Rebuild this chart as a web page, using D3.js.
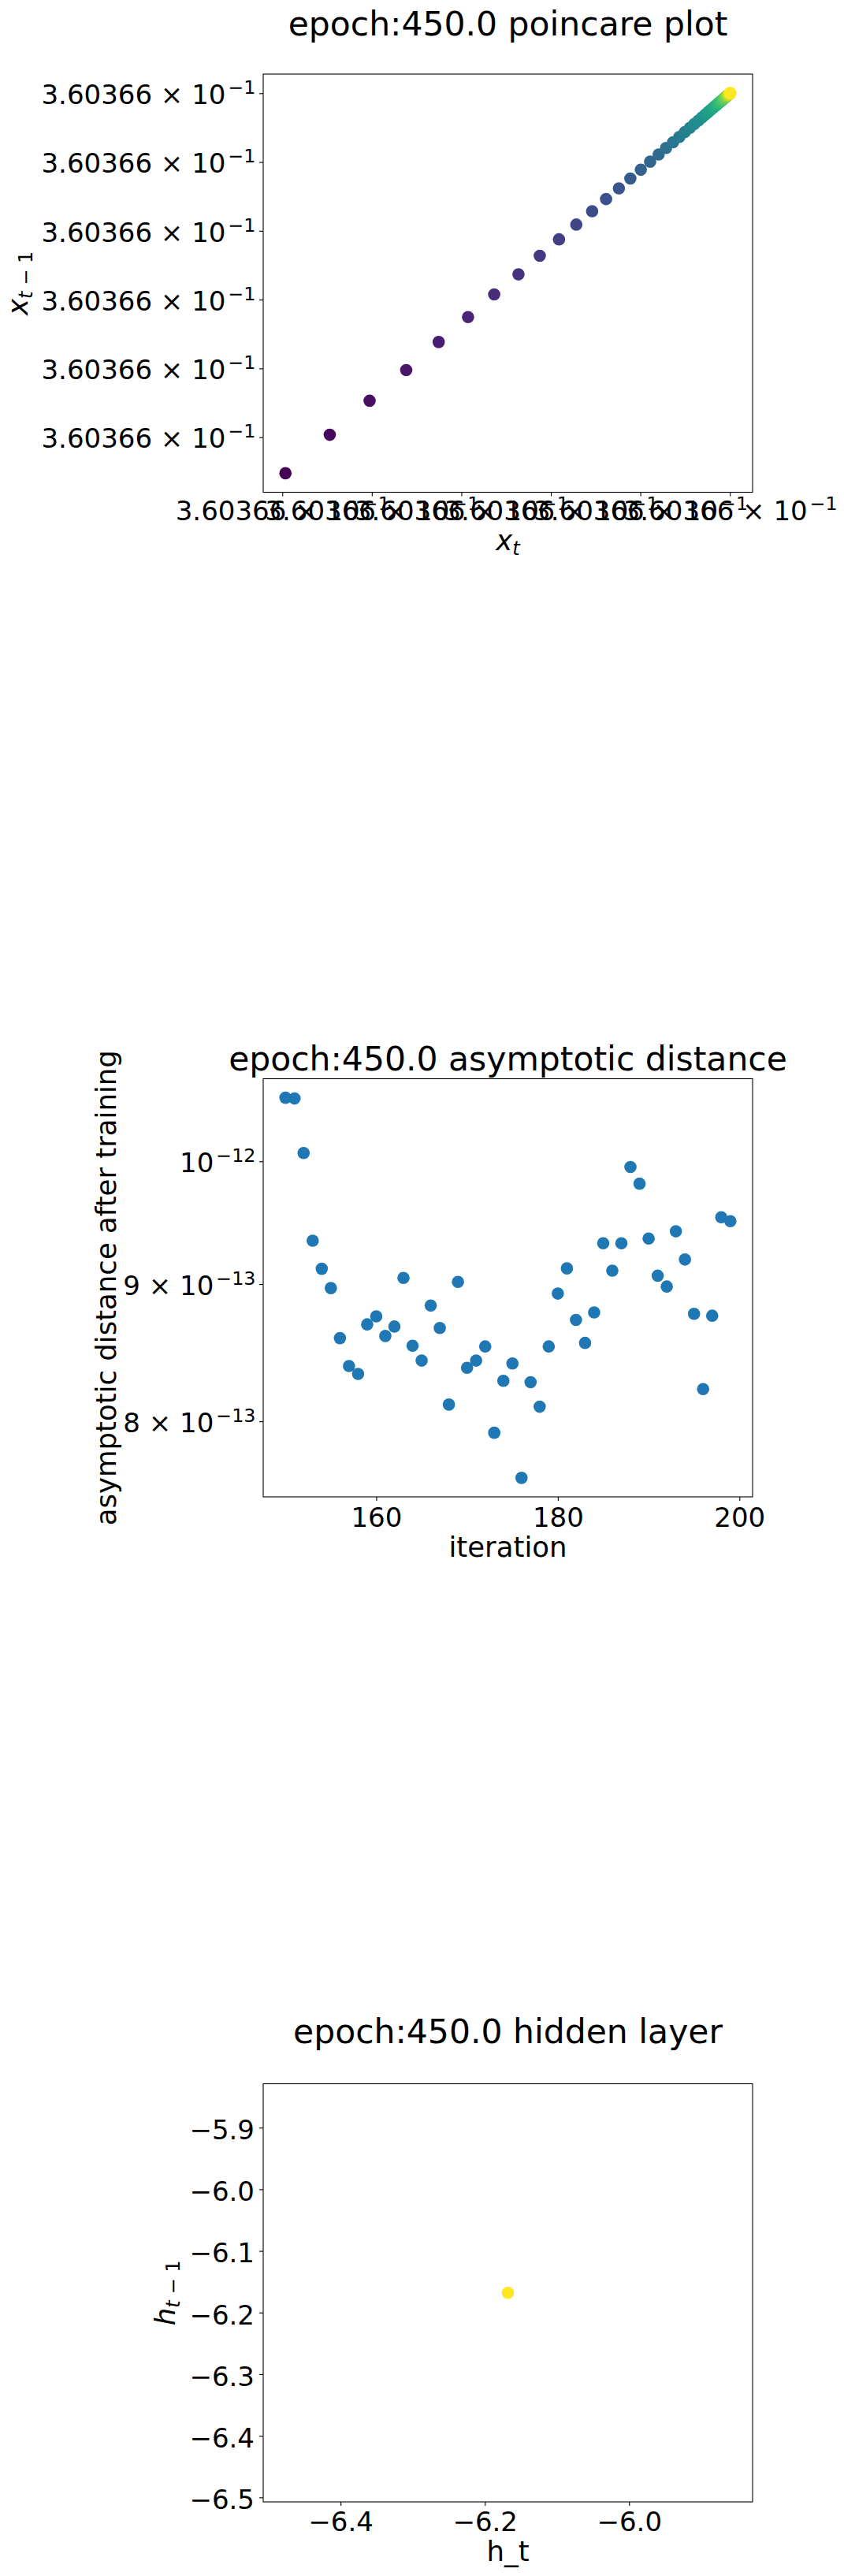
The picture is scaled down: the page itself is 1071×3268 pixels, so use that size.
<!DOCTYPE html>
<html>
<head>
<meta charset="utf-8">
<script src="https://cdn.jsdelivr.net/npm/d3@7"></script>
<style>
  body { margin: 0; background: #fff; }
  text { font-family: "DejaVu Sans", sans-serif; fill: #000; }
</style>
</head>
<body>
<svg id="fig" width="1071" height="3268"></svg>
<script>
// ---- data ----
// poincare series: x_t as offsets from 3.60366e-1, in tick-step units (label precision hides the rest)
var poincareSeries = [-0.524, 0.035, 0.530, 0.975, 1.384, 1.747, 2.075, 2.367, 2.638, 2.876,
  3.091, 3.284, 3.461, 3.617, 3.760, 3.888, 4.005, 4.109, 4.204, 4.287,
  4.365, 4.435, 4.497, 4.553, 4.603, 4.648, 4.688, 4.724, 4.756, 4.785,
  4.811, 4.834, 4.855, 4.873, 4.889, 4.904, 4.917, 4.929, 4.940, 4.949,
  4.957, 4.965, 4.972, 4.978, 4.983, 4.988, 4.992, 4.996, 4.999, 5.002, 5.005];
var poincareTicks = [0, 1, 2, 3, 4, 5];
var poincareTickText = ["3.60366 × 10", "−1"];

var iterations = [150, 151, 152, 153, 154, 155, 156, 157, 158, 159,
  160, 161, 162, 163, 164, 165, 166, 167, 168, 169,
  170, 171, 172, 173, 174, 175, 176, 177, 178, 179,
  180, 181, 182, 183, 184, 185, 186, 187, 188, 189,
  190, 191, 192, 193, 194, 195, 196, 197, 198, 199];
// asymptotic distance, units of 1e-12
var distances = [1.0561, 1.0554, 1.0072, 0.9341, 0.9119, 0.8969, 0.8592, 0.8389, 0.8332, 0.8694,
  0.8754, 0.8608, 0.8678, 0.9048, 0.8536, 0.8428, 0.8836, 0.8667, 0.8116, 0.9017,
  0.8376, 0.8428, 0.8531, 0.7922, 0.8283, 0.8407, 0.7621, 0.8273, 0.8101, 0.8531,
  0.8927, 0.9122, 0.8727, 0.8557, 0.8784, 0.9321, 0.9104, 0.9321, 0.9951, 0.9810,
  0.9359, 0.9065, 0.8981, 0.9417, 0.9192, 0.8773, 0.8224, 0.8759, 0.9531, 0.9499];
var iterTicks = [160, 180, 200];
var distTicks = [1.0, 0.9, 0.8];
var distTickText = [["10", "−12"], ["9 × 10", "−13"], ["8 × 10", "−13"]];

var hiddenX = [-6.168];
var hiddenY = [-6.168];
var hiddenXTicks = [-6.4, -6.2, -6.0];
var hiddenYTicks = [-5.9, -6.0, -6.1, -6.2, -6.3, -6.4, -6.5];

// ---- layout ----
var svg = d3.select("#fig");
var left = 334, right = 955, boxH = 530.5;
var tops = [94, 1368.5, 2643.5];
var fs = 34, labelFs = 35.5, titleFs = 42.5, r = 7.8;

function pad(ext) {
  var d = ext[1] - ext[0];
  return [ext[0] - 0.05 * d, ext[1] + 0.05 * d];
}
function singular(v) {
  var e = [v - Math.abs(v) * 0.05, v + Math.abs(v) * 0.05];
  return pad(e);
}

function styleAxis(g) {
  g.select(".domain").remove();
  g.selectAll(".tick line").attr("stroke", "#000").attr("stroke-width", 1.1);
  g.selectAll(".tick text").attr("font-size", fs).attr("font-family", "DejaVu Sans");
}

function powerLabel(textSel, parts) {
  textSel.text(null);
  textSel.append("tspan").text(parts[0]);
  textSel.append("tspan").attr("font-size", fs * 0.7).attr("dy", -13).attr("dx", 3).text(parts[1]);
}

function frame(top) {
  svg.append("rect").attr("x", left).attr("y", top)
    .attr("width", right - left).attr("height", boxH)
    .attr("fill", "none").attr("stroke", "#000").attr("stroke-width", 1.1);
}

function title(str, y) {
  svg.append("text").attr("x", (left + right) / 2).attr("y", y)
    .attr("text-anchor", "middle").attr("font-size", titleFs).text(str);
}

// ---- chart 1: poincare plot ----
(function () {
  var top = tops[0];
  var x = d3.scaleLinear().domain(pad(d3.extent(poincareSeries.slice(1)))).range([left, right]);
  var y = d3.scaleLinear().domain(pad(d3.extent(poincareSeries.slice(0, -1)))).range([top + boxH, top]);

  var pts = poincareSeries.slice(1).map(function (v, i) {
    return {x: v, y: poincareSeries[i], i: i};
  });
  var n = pts.length;

  svg.append("g").selectAll("circle").data(pts).join("circle")
    .attr("cx", function (d) { return x(d.x); })
    .attr("cy", function (d) { return y(d.y); })
    .attr("r", r)
    .attr("fill", function (d) { return d3.interpolateViridis(d.i / (n - 1)); });

  frame(top);

  var gx = svg.append("g").attr("transform", "translate(0," + (top + boxH) + ")")
    .call(d3.axisBottom(x).tickValues(poincareTicks).tickSize(5).tickPadding(6));
  styleAxis(gx);
  gx.selectAll(".tick text").each(function () { powerLabel(d3.select(this), poincareTickText); });

  var gy = svg.append("g").attr("transform", "translate(" + left + ",0)")
    .call(d3.axisLeft(y).tickValues(poincareTicks).tickSize(5).tickPadding(4.5));
  styleAxis(gy);
  gy.selectAll(".tick text").attr("dy", "0.39em")
    .each(function () { powerLabel(d3.select(this), poincareTickText); });

  title("epoch:450.0 poincare plot", 45);

  var xl = svg.append("text").attr("x", (left + right) / 2).attr("y", 698)
    .attr("text-anchor", "middle").attr("font-size", labelFs);
  xl.append("tspan").attr("font-style", "italic").text("x");
  xl.append("tspan").attr("font-style", "italic").attr("font-size", labelFs * 0.68).attr("dy", 6).text("t");

  var yl = svg.append("text").attr("transform", "translate(35," + (top + boxH / 2) + ") rotate(-90)")
    .attr("text-anchor", "middle").attr("font-size", labelFs);
  yl.append("tspan").attr("font-style", "italic").text("x");
  yl.append("tspan").attr("font-style", "italic").attr("font-size", labelFs * 0.68).attr("dy", 6).text("t");
  yl.append("tspan").attr("font-size", labelFs * 0.68).text(" − 1");
})();

// ---- chart 2: asymptotic distance ----
(function () {
  var top = tops[1];
  var x = d3.scaleLinear().domain(pad(d3.extent(iterations))).range([left, right]);
  var le = d3.extent(distances).map(Math.log10);
  var ld = pad(le);
  var y = d3.scaleLog().domain([Math.pow(10, ld[0]), Math.pow(10, ld[1])]).range([top + boxH, top]);

  svg.append("g").selectAll("circle").data(iterations).join("circle")
    .attr("cx", function (d) { return x(d); })
    .attr("cy", function (d, i) { return y(distances[i]); })
    .attr("r", r)
    .attr("fill", "#1f77b4");

  frame(top);

  var gx = svg.append("g").attr("transform", "translate(0," + (top + boxH) + ")")
    .call(d3.axisBottom(x).tickValues(iterTicks).tickFormat(d3.format("d")).tickSize(5).tickPadding(8.5));
  styleAxis(gx);

  var gy = svg.append("g").attr("transform", "translate(" + left + ",0)")
    .call(d3.axisLeft(y).tickValues(distTicks).tickSize(5).tickPadding(4.5));
  styleAxis(gy);
  gy.selectAll(".tick text").attr("dy", "0.39em")
    .each(function (d, i) { powerLabel(d3.select(this), distTickText[i]); });

  title("epoch:450.0 asymptotic distance", 1358);

  svg.append("text").attr("x", (left + right) / 2).attr("y", 1975)
    .attr("text-anchor", "middle").attr("font-size", labelFs).text("iteration");

  svg.append("text").attr("transform", "translate(147," + (top + boxH / 2) + ") rotate(-90)")
    .attr("text-anchor", "middle").attr("font-size", labelFs).text("asymptotic distance after training");
})();

// ---- chart 3: hidden layer ----
(function () {
  var top = tops[2];
  var x = d3.scaleLinear().domain(singular(hiddenX[0])).range([left, right]);
  var y = d3.scaleLinear().domain(singular(hiddenY[0])).range([top + boxH, top]);

  svg.append("g").selectAll("circle").data(hiddenX).join("circle")
    .attr("cx", function (d) { return x(d); })
    .attr("cy", function (d, i) { return y(hiddenY[i]); })
    .attr("r", r)
    .attr("fill", "#fde725");

  frame(top);

  var fmt = function (d) { return d3.format(".1f")(d).replace("-", "−"); };
  var gx = svg.append("g").attr("transform", "translate(0," + (top + boxH) + ")")
    .call(d3.axisBottom(x).tickValues(hiddenXTicks).tickFormat(fmt).tickSize(5).tickPadding(7.5));
  styleAxis(gx);

  var gy = svg.append("g").attr("transform", "translate(" + left + ",0)")
    .call(d3.axisLeft(y).tickValues(hiddenYTicks).tickFormat(fmt).tickSize(5).tickPadding(6));
  styleAxis(gy);
  gy.selectAll(".tick text").attr("dy", "0.42em");

  title("epoch:450.0 hidden layer", 2592);

  svg.append("text").attr("x", (left + right) / 2).attr("y", 3249)
    .attr("text-anchor", "middle").attr("font-size", labelFs).text("h_t");

  var yl = svg.append("text").attr("transform", "translate(222," + (top + boxH / 2) + ") rotate(-90)")
    .attr("text-anchor", "middle").attr("font-size", labelFs);
  yl.append("tspan").attr("font-style", "italic").text("h");
  yl.append("tspan").attr("font-style", "italic").attr("font-size", labelFs * 0.68).attr("dy", 6).text("t");
  yl.append("tspan").attr("font-size", labelFs * 0.68).text(" − 1");
})();
</script>
</body>
</html>
